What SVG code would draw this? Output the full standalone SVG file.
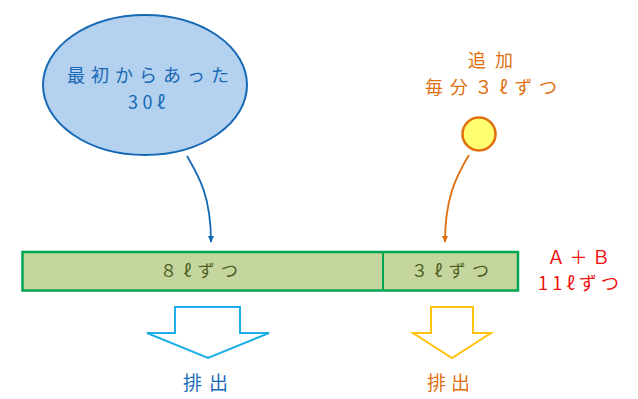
<svg xmlns="http://www.w3.org/2000/svg" width="638" height="399" viewBox="0 0 638 399">
<style>
text{font-family:"Noto Sans CJK JP","Noto Sans",sans-serif;}
.blue{fill:#1769b5;font-size:18px;}
.orange{fill:#e0700f;font-size:18px;}
.bar{fill:#c4d69e;stroke:#00a651;stroke-width:2.5;}
.bartxt{fill:#4f5f1f;font-size:17px;}
.red{fill:#f01010;font-size:18px;}
.out{font-size:19px;}
</style>
<defs>
<marker id="ab" markerWidth="8" markerHeight="8" refX="6" refY="4" orient="auto" markerUnits="userSpaceOnUse"><path d="M0,1 L7,4 L0,7 Z" fill="#1769b5"/></marker>
<marker id="ao" markerWidth="8" markerHeight="8" refX="6" refY="4" orient="auto" markerUnits="userSpaceOnUse"><path d="M0,1 L7,4 L0,7 Z" fill="#e0700f"/></marker>
</defs>
<g id="connectors" fill="none">
<path d="M187,156 C198,175 211,195 211,242" stroke="#1769b5" stroke-width="1.8" marker-end="url(#ab)"/>
<path d="M469,155 C455,178 445,200 445,242" stroke="#e0700f" stroke-width="1.8" marker-end="url(#ao)"/>
</g>
<g id="initial">
<ellipse cx="145" cy="85" rx="102" ry="70" fill="#b4d1ef" stroke="#1769b5" stroke-width="2"/>
<text class="blue" x="67" y="82" textLength="162" lengthAdjust="spacing">最初からあった</text>
<text class="blue" x="128" y="109" textLength="37" lengthAdjust="spacing">30ℓ</text>
</g>
<g id="addition">
<text class="orange" x="468" y="67" textLength="45" lengthAdjust="spacing">追加</text>
<text class="orange" x="425" y="94" textLength="132" lengthAdjust="spacing">毎分３ℓずつ</text>
<circle cx="479" cy="134" r="16.5" fill="#ffff70" stroke="#e0700f" stroke-width="2.5"/>
</g>
<g id="bar">
<rect class="bar" x="22.5" y="252" width="495.5" height="38.5"/>
<line x1="383" y1="252" x2="383" y2="290.5" stroke="#00a651" stroke-width="2"/>
<text class="bartxt" x="160" y="277" textLength="78" lengthAdjust="spacing">８ℓずつ</text>
<text class="bartxt" x="411" y="277" textLength="78" lengthAdjust="spacing">３ℓずつ</text>
</g>
<g id="total">
<text class="red" x="547" y="264" textLength="63" lengthAdjust="spacing">Ａ＋Ｂ</text>
<text class="red" x="538" y="290" textLength="81" lengthAdjust="spacing">11ℓずつ</text>
</g>
<g id="out-blue">
<path d="M175,307 H240 V333 H269 L208,358 L147,333 H175 Z" fill="#fff" stroke="#1eaee8" stroke-width="2"/>
<text class="out" x="183" y="390" textLength="45" lengthAdjust="spacing" style="fill:#1769b5;">排出</text>
</g>
<g id="out-orange">
<path d="M431,307 H473 V333 H491 L452,358 L413,333 H431 Z" fill="#fff" stroke="#ffc20e" stroke-width="2"/>
<text class="out" x="427" y="390" textLength="43" lengthAdjust="spacing" style="fill:#e0700f;">排出</text>
</g>
</svg>
